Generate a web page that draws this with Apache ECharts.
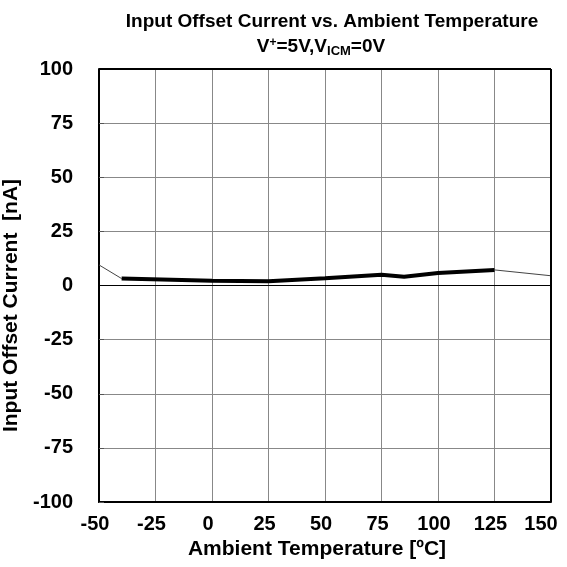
<!DOCTYPE html>
<html>
<head>
<meta charset="utf-8">
<script src="https://cdn.jsdelivr.net/npm/echarts@6/dist/echarts.min.js"></script>
<style>
  html, body { margin: 0; padding: 0; background: #fff; }
  #chart { width: 567px; height: 567px; }
</style>
</head>
<body>
<div id="chart"></div>
<script>
// 数据
var temps = [-40, 0, 25, 50, 75, 85, 100, 125];
var offsetCurrent = [3.2, 2.2, 2.0, 3.3, 5.0, 4.0, 5.8, 7.2];
// thin extrapolated ends
var leftTemps = [-50, -40];
var leftValues = [9.5, 3.2];
var rightTemps = [125, 150];
var rightValues = [7.2, 4.5];
var xTicks = [-50, -25, 0, 25, 50, 75, 100, 125, 150];
var yTicks = [-100, -75, -50, -25, 0, 25, 50, 75, 100];

function pairs(xs, ys) {
  return xs.map(function (x, i) { return [x, ys[i]]; });
}

var font = 'Liberation Sans, Arial, sans-serif';
var tickFont = { fontFamily: font, fontSize: 20, fontWeight: 'bold', color: '#000' };
var chart = echarts.init(document.getElementById('chart'), null, { renderer: 'canvas' });

var option = {
  backgroundColor: '#fff',
  animation: false,
  title: [
    {
      text: 'Input Offset Current vs. Ambient Temperature',
      left: 327, top: 7, textAlign: 'center',
      textStyle: { fontFamily: font, fontSize: 19, fontWeight: 'bold', color: '#000' }
    },
    {
      text: '{n|V}{sup|+}{n|=5V,V}{sub|ICM}{n|=0V}',
      left: 316, top: 31, textAlign: 'center',
      textStyle: {
        rich: {
          n: { fontFamily: font, fontSize: 19, fontWeight: 'bold', color: '#000' },
          sup: { fontFamily: font, fontSize: 12, fontWeight: 'bold', color: '#000', padding: [0, 0, 9, 0] },
          sub: { fontFamily: font, fontSize: 13, fontWeight: 'bold', color: '#000', padding: [9, 0, 0, 0] }
        }
      }
    }
  ],
  grid: { left: 99, right: 16, top: 69, bottom: 65, show: false, outerBoundsMode: 'none' },
  xAxis: {
    type: 'value', min: -50, max: 150, interval: 25,
    name: 'Ambient Temperature [ºC]', nameLocation: 'middle', nameGap: 27,
    nameTextStyle: { fontFamily: font, fontSize: 21, fontWeight: 'bold', color: '#000', padding: [0, 16, 0, 0] },
    axisLine: { show: true, onZero: false, lineStyle: { color: '#000', width: 2 } },
    axisTick: { show: false },
    axisLabel: {
      margin: 12,
      formatter: function (v) {
        if (xTicks.indexOf(v) < 0) return '';
        return v === 150 ? '{r|' + v + '}' : '{n|' + v + '}';
      },
      rich: {
        n: Object.assign({ padding: [0, 8, 0, 0] }, tickFont),
        r: Object.assign({ padding: [0, 20, 0, 0] }, tickFont)
      }
    },
    splitLine: { show: true, lineStyle: { color: '#888', width: 1 } }
  },
  yAxis: {
    type: 'value', min: -100, max: 100, interval: 25,
    name: 'Input Offset Current  [nA]', nameLocation: 'middle', nameGap: 70,
    nameTextStyle: { fontFamily: font, fontSize: 21, fontWeight: 'bold', color: '#000', padding: [0, 40, 0, 0] },
    axisLine: { show: true, onZero: false, lineStyle: { color: '#000', width: 2 } },
    axisTick: { show: true, inside: true, length: 5, lineStyle: { color: '#555' } },
    axisLabel: Object.assign({ margin: 26,
      formatter: function (v) { return yTicks.indexOf(v) >= 0 ? String(v) : ''; } }, tickFont),
    splitLine: { show: true, lineStyle: { color: '#888', width: 1 } }
  },
  series: [
    {
      type: 'line', data: pairs(leftTemps, leftValues), showSymbol: false, silent: true,
      lineStyle: { color: '#444', width: 1 }
    },
    {
      type: 'line', data: pairs(rightTemps, rightValues), showSymbol: false, silent: true,
      lineStyle: { color: '#444', width: 1 }
    },
    {
      type: 'line', data: pairs(temps, offsetCurrent), showSymbol: false, silent: true,
      lineStyle: { color: '#000', width: 4 },
      markLine: {
        silent: true, symbol: 'none', label: { show: false },
        lineStyle: { color: '#000', width: 1, type: 'solid' },
        data: [{ yAxis: 0 }]
      }
    },
    {
      // top and right border of the plot box
      type: 'line', data: [],
      markLine: {
        silent: true, symbol: 'none', label: { show: false },
        lineStyle: { color: '#000', width: 2, type: 'solid' },
        data: [{ yAxis: 100 }, { xAxis: 150 }]
      }
    }
  ]
};

chart.setOption(option);
</script>
</body>
</html>
